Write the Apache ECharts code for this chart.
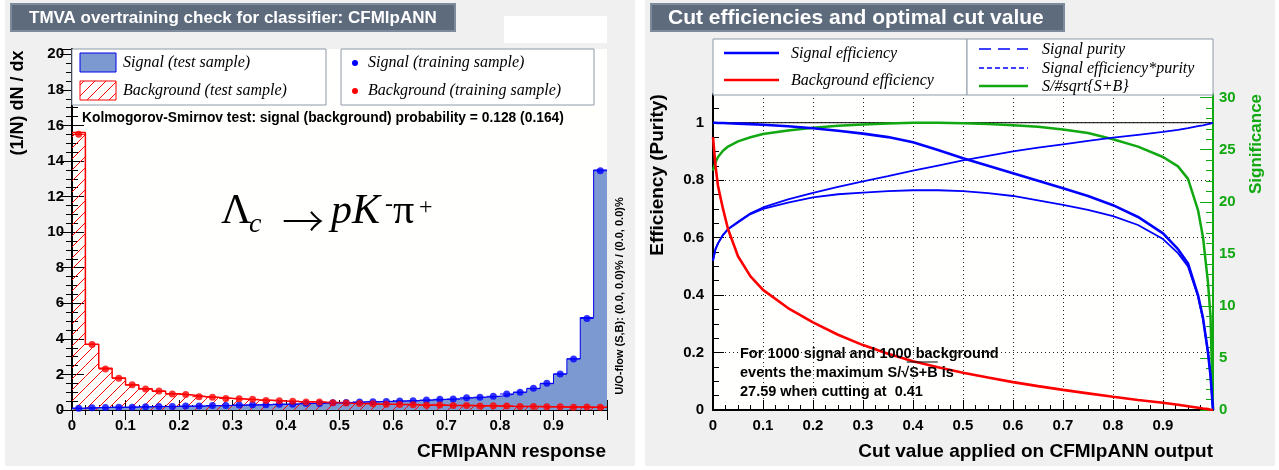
<!DOCTYPE html>
<html><head><meta charset="utf-8">
<script src="https://cdn.jsdelivr.net/npm/echarts@6/dist/echarts.min.js"></script>
<style>html,body{margin:0;padding:0;background:#fff}#c{width:1279px;height:470px}</style>
</head><body><div id="c"></div>
<script>
// ---------- DATA: left panel (40 bins of width 0.025) ----------
const binLow = [0.000,0.025,0.050,0.075,0.100,0.125,0.150,0.175,0.200,0.225,
                0.250,0.275,0.300,0.325,0.350,0.375,0.400,0.425,0.450,0.475,
                0.500,0.525,0.550,0.575,0.600,0.625,0.650,0.675,0.700,0.725,
                0.750,0.775,0.800,0.825,0.850,0.875,0.900,0.925,0.950,0.975];
const sigTest = [0.10,0.13,0.15,0.15,0.17,0.18,0.19,0.20,0.21,0.22,
                 0.24,0.26,0.27,0.28,0.30,0.32,0.34,0.36,0.38,0.40,
                 0.43,0.45,0.46,0.49,0.50,0.53,0.56,0.59,0.62,0.68,
                 0.72,0.77,0.88,1.00,1.20,1.48,2.02,2.88,5.20,13.50];
const bkgTest = [15.60,3.70,2.35,1.80,1.40,1.20,1.05,0.92,0.85,0.76,
                 0.71,0.66,0.62,0.58,0.55,0.51,0.48,0.46,0.44,0.42,
                 0.38,0.36,0.34,0.33,0.31,0.29,0.28,0.27,0.26,0.25,
                 0.24,0.23,0.21,0.20,0.19,0.18,0.17,0.17,0.16,0.15];
const sigTrain = [0.10,0.12,0.14,0.16,0.16,0.18,0.20,0.20,0.22,0.22,
                  0.25,0.25,0.28,0.29,0.30,0.33,0.33,0.37,0.37,0.41,
                  0.42,0.45,0.47,0.48,0.51,0.52,0.56,0.60,0.62,0.69,
                  0.72,0.77,0.90,1.00,1.22,1.50,2.03,2.87,5.15,13.45];
const bkgTrain = [15.50,3.68,2.30,1.78,1.42,1.18,1.07,0.90,0.87,0.75,
                  0.72,0.65,0.63,0.60,0.54,0.52,0.49,0.45,0.45,0.41,
                  0.39,0.36,0.35,0.32,0.31,0.30,0.27,0.28,0.25,0.26,
                  0.23,0.24,0.22,0.20,0.20,0.18,0.18,0.16,0.17,0.15];
const BIN_HALF = 0.0125;

// ---------- DATA: right panel ----------
const cutValues = [0,0.005,0.01,0.02,0.03,0.05,0.075,0.1,0.15,0.2,0.25,0.3,0.35,0.4,0.45,0.5,
                   0.55,0.6,0.65,0.7,0.75,0.8,0.85,0.9,0.93,0.95,0.97,0.98,0.99,0.995,1.0];
const sigEff   = [1.000,1.000,0.999,0.999,0.998,0.997,0.995,0.993,0.988,0.981,0.972,0.962,0.950,0.932,0.905,0.876,
                  0.850,0.824,0.798,0.772,0.745,0.713,0.672,0.615,0.560,0.510,0.400,0.320,0.200,0.120,0.000];
const purity   = [0.520,0.560,0.580,0.610,0.630,0.655,0.685,0.705,0.733,0.756,0.777,0.796,0.814,0.833,0.851,0.869,
                  0.885,0.900,0.913,0.925,0.937,0.948,0.958,0.968,0.975,0.981,0.988,0.991,0.995,0.997,1.000];
const effPur   = [0.520,0.560,0.580,0.609,0.629,0.653,0.682,0.700,0.722,0.740,0.751,0.757,0.762,0.765,0.765,0.762,
                  0.755,0.745,0.730,0.714,0.697,0.675,0.644,0.595,0.546,0.500,0.395,0.317,0.199,0.120,0.000];
const bkgEff   = [0.950,0.850,0.780,0.700,0.630,0.535,0.465,0.418,0.355,0.305,0.262,0.226,0.196,0.170,0.149,0.130,
                  0.113,0.097,0.083,0.070,0.058,0.046,0.035,0.025,0.018,0.013,0.008,0.005,0.003,0.001,0.000];
const signif   = [23.0,23.8,24.3,24.9,25.3,25.8,26.2,26.5,26.85,27.1,27.3,27.43,27.52,27.585,27.58,27.55,
                  27.48,27.35,27.2,26.95,26.6,26.0,25.3,24.3,23.4,22.2,19.2,16.6,12.2,9.0,0.0];
const unityLine = [[0,1],[1,1]];

// ---------- helpers ----------
const SANS = '"Liberation Sans", Arial, Helvetica, sans-serif';
const SERIF = '"Liberation Serif", "Times New Roman", serif';
const BLUE = '#0000ff', RED = '#ff0000', GREEN = '#11a811';
const HATCH_STEP = 11;

// diagonal "/" hatch lines clipped to a pixel rectangle (global phase)
function hatchSegs(xa, xb, ya, yb) {
  const out = [];
  const c0 = Math.ceil((xa + ya) / HATCH_STEP) * HATCH_STEP;
  for (let c = c0; c <= xb + yb; c += HATCH_STEP) {
    const lo = Math.max(xa, c - yb), hi = Math.min(xb, c - ya);
    if (hi > lo) out.push([lo, c - lo, hi, c - hi]);
  }
  return out;
}

function txt(x, y, text, size, o = {}) {
  const weight = o.weight ? o.weight + ' ' : (o.bold === false ? '' : 'bold ');
  return { type: 'text', x, y, rotation: o.rot || 0, z: 100, silent: true,
    style: { text, font: (o.italic ? 'italic ' : '') + weight + size + 'px ' + (o.font || (o.serif ? SERIF : SANS)),
      fill: o.color || '#000', textAlign: o.align || 'left', textVerticalAlign: o.valign || 'middle' } };
}
function rect(x, y, w, h, fill, stroke, lw, z) {
  return { type: 'rect', z: z === undefined ? 100 : z, silent: true, shape: { x, y, width: w, height: h },
    style: { fill, stroke: stroke || null, lineWidth: lw || 0 } };
}
function seg(x1, y1, x2, y2, color, lw, dash) {
  return { type: 'line', z: 101, silent: true, shape: { x1, y1, x2, y2 },
    style: { stroke: color, lineWidth: lw, lineDash: dash || null } };
}
function errBar(color) {
  return function (params, api) {
    const a = api.coord([api.value(0) - BIN_HALF, api.value(1)]);
    const b = api.coord([api.value(0) + BIN_HALF, api.value(1)]);
    return { type: 'line', shape: { x1: a[0], y1: a[1], x2: b[0], y2: b[1] }, style: { stroke: color, lineWidth: 1 } };
  };
}
function hatchBin(params, api) {
  const p0 = api.coord([api.value(0), 0]);
  const p1 = api.coord([api.value(0) + 2 * BIN_HALF, api.value(1)]);
  const segs = hatchSegs(p0[0], p1[0], p1[1], p0[1]);
  return { type: 'group', children: segs.map(s => ({ type: 'line',
    shape: { x1: s[0], y1: s[1], x2: s[2], y2: s[3] }, style: { stroke: RED, lineWidth: 1 } })) };
}

const binCenters = binLow.map(v => v + BIN_HALF);
const stepPts = arr => binLow.map((x, i) => [x, arr[i]]).concat([[1, arr[arr.length - 1]]]);
const ptPts = arr => binCenters.map((x, i) => [x, arr[i]]);
const binPts = arr => binLow.map((x, i) => [x, arr[i]]);
const curve = arr => cutValues.map((x, i) => [x, arr[i]]);

// overline position for sqrt
const ANN_FONT = 14.5;
const mctx = document.createElement('canvas').getContext('2d');
mctx.font = 'bold ' + ANN_FONT + 'px ' + SANS;
const ANN_X = 740;
const w1 = mctx.measureText('events the maximum S/').width;
const w2 = mctx.measureText('\u221A').width;
const w3 = mctx.measureText('S+B').width;

const legendHatch = hatchSegs(80, 116, 81, 100).map(s => seg(s[0], s[1], s[2], s[3], RED, 1));

const lbl = { color: '#000', fontWeight: 'bold', fontSize: 15, fontFamily: SANS };
const blackTick = { lineStyle: { color: '#000', width: 1 } };

const option = {
  animation: false,
  backgroundColor: '#ffffff',
  grid: [
    { left: 72, top: 49, width: 535, height: 361, show: true, backgroundColor: '#fffffd', borderWidth: 0 },
    { left: 713, top: 94, width: 500, height: 316, show: true, backgroundColor: '#fffffd', borderColor: '#000', borderWidth: 1 }
  ],
  xAxis: [
    { gridIndex: 0, type: 'value', min: 0, max: 1, interval: 0.1, position: 'bottom',
      axisLine: { lineStyle: { color: '#000', width: 2 } },
      axisTick: { inside: true, length: 10, ...blackTick },
      minorTick: { show: true, splitNumber: 4, length: 5, ...blackTick },
      axisLabel: { ...lbl, margin: 8, showMaxLabel: false }, splitLine: { show: false } },
    { gridIndex: 0, type: 'value', min: 0, max: 1, interval: 0.1, position: 'top',
      axisLine: { lineStyle: { color: '#000', width: 1 } },
      axisTick: { inside: true, length: 10, ...blackTick },
      minorTick: { show: true, splitNumber: 4, length: 5, ...blackTick },
      axisLabel: { show: false }, splitLine: { show: false } },
    { gridIndex: 1, type: 'value', min: 0, max: 1, interval: 0.1, position: 'bottom',
      axisLine: { lineStyle: { color: '#000', width: 2 } },
      axisTick: { inside: true, length: 10, ...blackTick },
      minorTick: { show: true, splitNumber: 4, length: 5, ...blackTick },
      axisLabel: { ...lbl, margin: 8, showMaxLabel: false },
      splitLine: { show: true, lineStyle: { color: '#222', width: 1, type: [1, 3] } } }
  ],
  yAxis: [
    { gridIndex: 0, type: 'value', min: 0, max: 20.3, interval: 2, position: 'left',
      axisLine: { lineStyle: { color: '#000', width: 2 } },
      axisTick: { inside: true, length: 12, ...blackTick },
      minorTick: { show: true, splitNumber: 4, length: 6, ...blackTick },
      axisLabel: { ...lbl, margin: 8, showMaxLabel: false }, splitLine: { show: false } },
    { gridIndex: 0, type: 'value', min: 0, max: 20.3, interval: 2, position: 'right',
      axisLine: { lineStyle: { color: '#000', width: 1 } },
      axisTick: { inside: true, length: 12, ...blackTick },
      minorTick: { show: true, splitNumber: 4, length: 6, ...blackTick },
      axisLabel: { show: false }, splitLine: { show: false } },
    { gridIndex: 1, type: 'value', min: 0, max: 1.1, interval: 0.2, position: 'left',
      axisLine: { lineStyle: { color: '#000', width: 2 } },
      axisTick: { inside: true, length: 11, ...blackTick },
      minorTick: { show: true, splitNumber: 4, length: 6, ...blackTick },
      axisLabel: { ...lbl, margin: 9, showMaxLabel: false },
      splitLine: { show: true, lineStyle: { color: '#222', width: 1, type: [1, 3] } } },
    { gridIndex: 1, type: 'value', min: 0, max: 30.35, interval: 5, position: 'right',
      axisLine: { lineStyle: { color: GREEN, width: 2 } },
      axisTick: { inside: true, length: 13, lineStyle: { color: GREEN, width: 1 } },
      minorTick: { show: true, splitNumber: 5, length: 7, lineStyle: { color: GREEN, width: 1 } },
      axisLabel: { ...lbl, color: GREEN, margin: 6, showMaxLabel: false }, splitLine: { show: false } }
  ],
  series: [
    { type: 'line', xAxisIndex: 0, yAxisIndex: 0, step: 'end', data: stepPts(sigTest), symbol: 'none', silent: true,
      lineStyle: { color: '#0000ee', width: 1 }, areaStyle: { color: '#7d99d1', opacity: 1 }, z: 2 },
    { type: 'custom', xAxisIndex: 0, yAxisIndex: 0, data: binPts(bkgTest), renderItem: hatchBin, silent: true, z: 2 },
    { type: 'line', xAxisIndex: 0, yAxisIndex: 0, step: 'end', data: stepPts(bkgTest), symbol: 'none', silent: true,
      lineStyle: { color: RED, width: 1.5 }, z: 3 },
    { type: 'custom', xAxisIndex: 0, yAxisIndex: 0, data: ptPts(sigTrain), renderItem: errBar(BLUE), silent: true, z: 4 },
    { type: 'custom', xAxisIndex: 0, yAxisIndex: 0, data: ptPts(bkgTrain), renderItem: errBar(RED), silent: true, z: 4 },
    { type: 'scatter', xAxisIndex: 0, yAxisIndex: 0, data: ptPts(sigTrain), symbolSize: 7, silent: true, z: 5,
      itemStyle: { color: BLUE } },
    { type: 'scatter', xAxisIndex: 0, yAxisIndex: 0, data: ptPts(bkgTrain), symbolSize: 7, silent: true, z: 5,
      itemStyle: { color: RED } },

    { type: 'line', xAxisIndex: 2, yAxisIndex: 2, data: unityLine, symbol: 'none', silent: true,
      lineStyle: { color: '#000', width: 1 } },
    { type: 'line', xAxisIndex: 2, yAxisIndex: 3, data: curve(signif), symbol: 'none', silent: true,
      lineStyle: { color: GREEN, width: 2.5 } },
    { type: 'line', xAxisIndex: 2, yAxisIndex: 2, data: curve(purity), symbol: 'none', silent: true,
      lineStyle: { color: BLUE, width: 1.8 } },
    { type: 'line', xAxisIndex: 2, yAxisIndex: 2, data: curve(effPur), symbol: 'none', silent: true,
      lineStyle: { color: BLUE, width: 1.8 } },
    { type: 'line', xAxisIndex: 2, yAxisIndex: 2, data: curve(sigEff), symbol: 'none', silent: true,
      lineStyle: { color: BLUE, width: 2.6 } },
    { type: 'line', xAxisIndex: 2, yAxisIndex: 2, data: curve(bkgEff), symbol: 'none', silent: true,
      lineStyle: { color: RED, width: 2.6 } }
  ],
  graphic: [
    // panel backgrounds
    rect(5, 0, 630, 466, '#f0f0f0', null, 0, -10),
    rect(645, 0, 630, 466, '#f0f0f0', null, 0, -10),
    // title boxes
    rect(11, 4, 444, 27, '#5D6B7D', '#7D8B9D', 2),
    txt(29, 18, 'TMVA overtraining check for classifier: CFMlpANN', 17, { color: '#fff' }),
    rect(651, 4, 413, 27, '#5D6B7D', '#7D8B9D', 2),
    txt(668, 18, 'Cut efficiencies and optimal cut value', 21, { color: '#fff' }),
    rect(504, 16, 103, 27, '#ffffff', null, 0),

    // left legend
    rect(72, 49, 254, 56, '#ffffff', '#8f9aa8', 1),
    rect(341, 49, 253, 56, '#ffffff', '#8f9aa8', 1),
    rect(80, 53, 36, 19, '#7d99d1', '#0000ee', 1),
    rect(80, 81, 36, 19, '#ffffff', RED, 1),
    ...legendHatch,
    txt(123, 63, 'Signal (test sample)', 16, { italic: true, bold: false, serif: true }),
    txt(123, 91, 'Background (test sample)', 16, { italic: true, bold: false, serif: true }),
    { type: 'circle', z: 101, silent: true, shape: { cx: 355, cy: 63, r: 3 }, style: { fill: BLUE } },
    { type: 'circle', z: 101, silent: true, shape: { cx: 355, cy: 91, r: 3 }, style: { fill: RED } },
    txt(368, 63, 'Signal (training sample)', 16, { italic: true, bold: false, serif: true }),
    txt(368, 91, 'Background (training sample)', 16, { italic: true, bold: false, serif: true }),

    txt(82, 118, 'Kolmogorov-Smirnov test: signal (background) probability = 0.128 (0.164)', 13.8),

    // formula
    txt(221, 233, '\u039B', 42, { bold: false, serif: true, valign: 'bottom' }),
    txt(249, 239, 'c', 28, { italic: true, bold: false, serif: true, valign: 'bottom' }),
    txt(282, 221, '\u2192', 42, { weight: '300', font: '"Noto Sans CJK JP", "Noto Sans CJK SC", sans-serif' }),
    txt(331, 233, 'pK', 42, { italic: true, bold: false, serif: true, valign: 'bottom' }),
    txt(385, 217, '-', 24, { bold: false, serif: true, valign: 'bottom' }),
    txt(393, 233, '\u03C0', 42, { bold: false, serif: true, valign: 'bottom' }),
    txt(419, 220, '+', 24, { bold: false, serif: true, valign: 'bottom' }),

    // left axis titles
    txt(18, 103, '(1/N) dN / dx', 18, { rot: Math.PI / 2, align: 'center' }),
    txt(606, 452, 'CFMlpANN response', 19, { align: 'right' }),
    txt(620, 296, 'U/O-flow (S,B): (0.0, 0.0)% / (0.0, 0.0)%', 11, { rot: Math.PI / 2, align: 'center' }),

    // right legend
    rect(713, 39, 254, 56, '#ffffff', '#8f9aa8', 1),
    rect(967, 39, 246, 56, '#ffffff', '#8f9aa8', 1),
    seg(724, 53, 779, 53, BLUE, 2.5),
    seg(724, 80, 779, 80, RED, 2.5),
    txt(791, 54, 'Signal efficiency', 16, { italic: true, bold: false, serif: true }),
    txt(791, 81, 'Background efficiency', 16, { italic: true, bold: false, serif: true }),
    seg(979, 49, 1028, 49, BLUE, 1.5, [12, 7]),
    seg(979, 68, 1028, 68, BLUE, 1.5, [5, 3]),
    seg(979, 86, 1028, 86, GREEN, 2.5),
    txt(1042, 50, 'Signal purity', 16, { italic: true, bold: false, serif: true }),
    txt(1042, 69, 'Signal efficiency*purity', 16, { italic: true, bold: false, serif: true }),
    txt(1042, 87, 'S/#sqrt{S+B}', 16, { italic: true, bold: false, serif: true }),

    // right axis titles
    txt(658, 175, 'Efficiency (Purity)', 19, { rot: Math.PI / 2, align: 'center' }),
    txt(1256, 144, 'Significance', 17, { rot: Math.PI / 2, align: 'center', color: GREEN }),
    txt(1213, 452, 'Cut value applied on CFMlpANN output', 19, { align: 'right' }),

    // annotation
    txt(ANN_X, 354, 'For 1000 signal and 1000 background', ANN_FONT),
    txt(ANN_X, 373, 'events the maximum S/\u221AS+B is', ANN_FONT),
    seg(ANN_X + w1 + w2 * 0.7, 362, ANN_X + w1 + w2 + w3, 362, '#000', 1),
    txt(ANN_X, 392, '27.59 when cutting at  0.41', ANN_FONT)
  ]
};

const chart = echarts.init(document.getElementById('c'), null, { renderer: 'canvas' });
chart.setOption(option);
</script>
</body></html>
